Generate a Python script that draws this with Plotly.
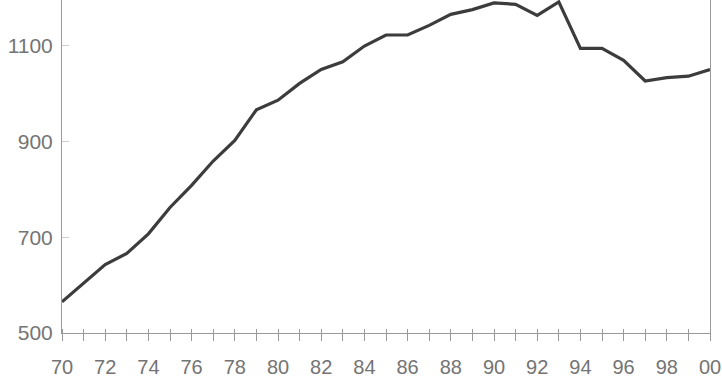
import plotly.graph_objects as go

years = list(range(1970, 2001))
values = [565, 603, 643, 666, 707, 762, 808, 859, 902, 966, 986, 1021, 1050, 1066,
          1099, 1122, 1122, 1142, 1165, 1175, 1189, 1186, 1163, 1191, 1094, 1094,
          1069, 1026, 1033, 1036, 1050]
y_ticks = [500, 700, 900, 1100]
x_tick_text = [str(y)[-2:] if y % 2 == 0 else "" for y in years]

W, H = 722, 379
M_L, M_R, M_T, M_B = 62, 12, 0, 46
TICK_UP, TICK_DOWN = 5, 7
plot_h = H - M_T - M_B

x_font = dict(family="Liberation Sans, Arial, sans-serif", size=20, color="#747474")
y_font = dict(family="Liberation Sans, Arial, sans-serif", size=21, color="#747474")
axis_color = "#9a9a9a"

fig = go.Figure()
fig.add_trace(go.Scatter(x=years, y=values, mode="lines",
                         line=dict(color="#3c3c3c", width=3.2), showlegend=False,
                         hoverinfo="skip"))
# invisible companion trace so the overlaid axis carrying the baseline is drawn
fig.add_trace(go.Scatter(x=years, y=values, mode="lines", xaxis="x2",
                         line=dict(color="rgba(0,0,0,0)", width=0), showlegend=False,
                         hoverinfo="skip"))

fig.update_layout(
    template="none",
    width=W, height=H,
    margin=dict(l=M_L, r=M_R, t=M_T, b=M_B, pad=0),
    paper_bgcolor="white", plot_bgcolor="white",
    # tick-carrying axis lifted a few pixels so its ticks cross the baseline
    xaxis=dict(range=[1970, 2000], tickmode="array", tickvals=years, ticktext=x_tick_text,
               anchor="free", position=TICK_UP / plot_h,
               ticks="outside", ticklen=TICK_UP + TICK_DOWN, tickwidth=1, tickcolor=axis_color,
               showline=False, showgrid=False, zeroline=False, tickfont=x_font,
               ticklabelstandoff=9, automargin=False),
    # baseline
    xaxis2=dict(range=[1970, 2000], overlaying="x", anchor="y", side="bottom",
                showticklabels=False, ticks="",
                showline=True, linecolor=axis_color, linewidth=1,
                showgrid=False, zeroline=False, automargin=False),
    yaxis=dict(range=[500, 1195], tickmode="array", tickvals=y_ticks,
               ticks="inside", ticklen=7, tickwidth=1, tickcolor="#cfcfcf",
               showline=True, linecolor=axis_color, linewidth=1, mirror=True,
               showgrid=False, zeroline=False, tickfont=y_font, ticklabelstandoff=4,
               automargin=False),
)

fig.write_html("out.html")
